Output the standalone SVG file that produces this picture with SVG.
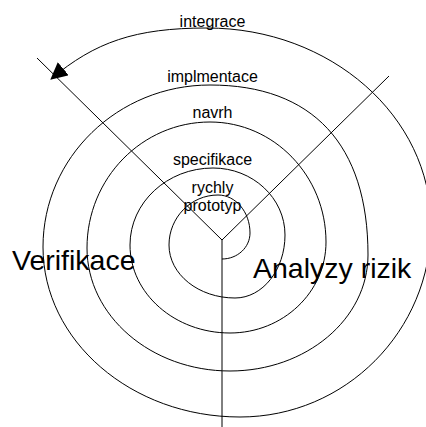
<svg xmlns="http://www.w3.org/2000/svg" width="426" height="427" viewBox="0 0 426 427">
<style>
.ln{fill:none;stroke:#000;stroke-width:1}
.sm{font-family:"Liberation Sans",Arial,sans-serif;font-size:16px;fill:#000;text-anchor:middle}
.bg{font-family:"Liberation Sans",Arial,sans-serif;font-size:28.5px;fill:#000}
</style>
<defs>
<marker id="arr" markerUnits="userSpaceOnUse" viewBox="0 0 17 17" markerWidth="17" markerHeight="17" refX="16" refY="8.5" orient="auto">
<path d="M0,0 L17,8.5 L0,17 z" fill="#000"/>
</marker>
</defs>
<rect width="426" height="427" fill="#fff"/>
<g id="connectors">
<path id="spiral" class="ln" marker-end="url(#arr)" d="M222,259 C237.5,259 250,247.4 250,233 C250,212 235.7,195 218,195 C191,195 169,217.4 169,245 C169,274.3 198.6,298 235,298 C262.6,298 285,269.8 285,235 C285,198 252.7,168 213,168 C167.2,168 130,202.5 130,245 C130,293.6 174.8,333 230,333 C283,333 326,292.2 326,242 C326,175.8 274,122 210,122 C142.1,122 87,178.4 87,248 C87,315.9 151.1,371 230,371 C306.2,371 368,319 368,255 C368,144.5 312.7,85 210,85 C117.8,85 43,157.6 43,247 C43,340.8 131.3,417 240,417 C345.4,417 431,331 431,225 C431,116.3 330.6,28 207,28 C135,28 95,42 51,79"/>
<line id="axis-left" class="ln" x1="37" y1="58" x2="222" y2="240"/>
<line id="axis-right" class="ln" x1="222" y1="240" x2="389" y2="76"/>
<line id="axis-down" class="ln" x1="222" y1="240" x2="222" y2="427"/>
</g>
<g id="label-integrace"><text class="sm" x="212.5" y="27">integrace</text></g>
<g id="label-implmentace"><text class="sm" x="212.5" y="81.5">implmentace</text></g>
<g id="label-navrh"><text class="sm" x="212.5" y="118">navrh</text></g>
<g id="label-specifikace"><text class="sm" x="212.5" y="165">specifikace</text></g>
<g id="label-prototyp"><text class="sm" x="212.5" y="193">rychly</text><text class="sm" x="212.5" y="211">prototyp</text></g>
<g id="label-verifikace"><text class="bg" x="12" y="270">Verifikace</text></g>
<g id="label-analyzy"><text class="bg" x="253" y="278">Analyzy rizik</text></g>
</svg>
